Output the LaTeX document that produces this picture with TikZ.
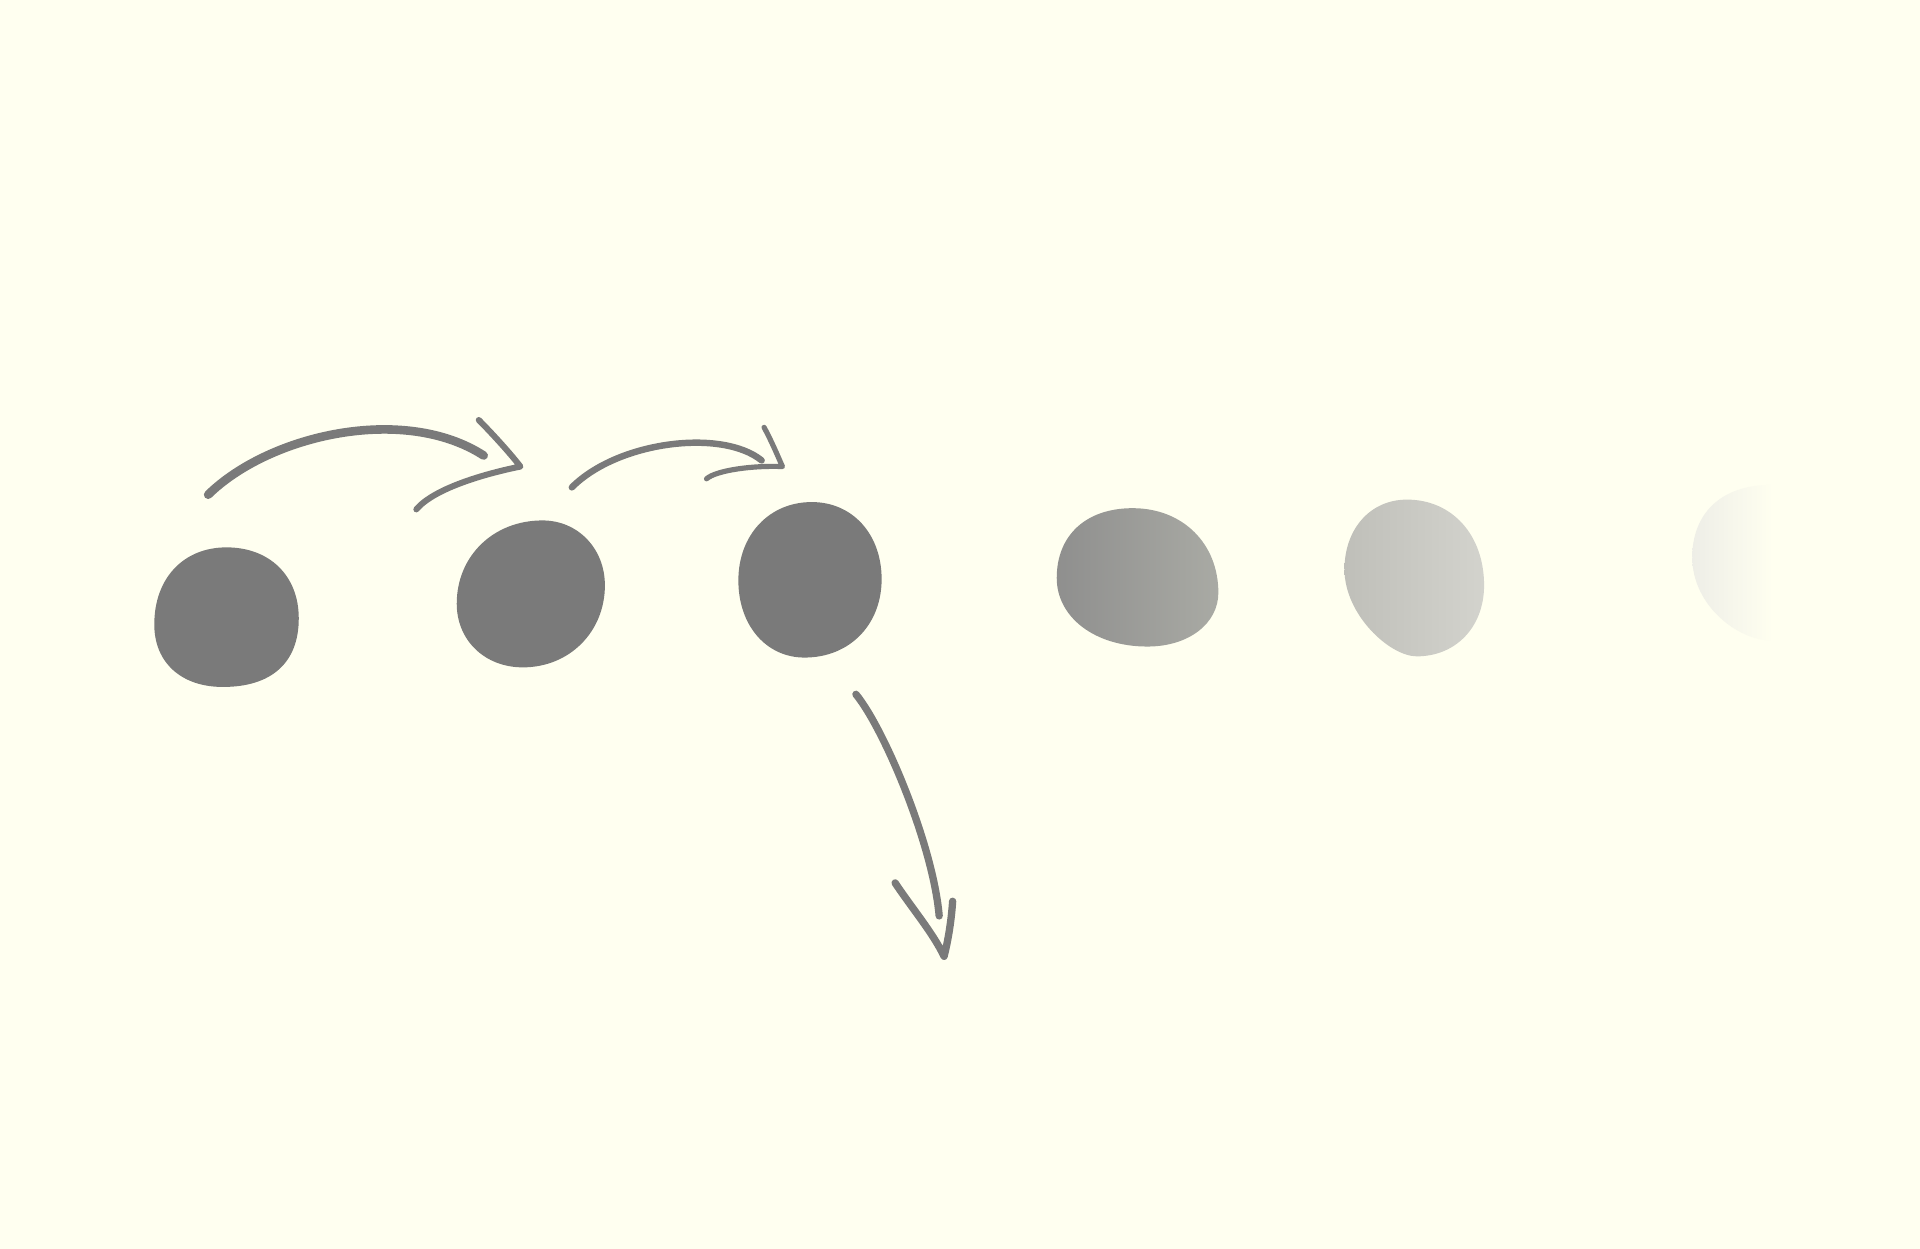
\documentclass[tikz,border=0pt]{standalone}
\usetikzlibrary{positioning}
\definecolor{paper}{HTML}{FFFFF0}
\definecolor{ink}{HTML}{7A7A7A}
\definecolor{fadeA}{HTML}{8F8F8E}
\definecolor{fadeB}{HTML}{A9AAA4}
\definecolor{fadeC}{HTML}{BFBFB9}
\definecolor{fadeD}{HTML}{D3D3CD}
\definecolor{fadeE}{HTML}{EEEEE7}
\tikzset{
  blob/.style={fill=ink},
  stroke/.style={draw=ink, line cap=round, line join=round, line width=#1},
  stroke/.default=1.4pt
}
\begin{document}
\begin{tikzpicture}[x=0.01cm,y=-0.01cm]
\fill[paper] (0,0) rectangle (1568,1020);
\useasboundingbox (0,0) rectangle (1568,1020);
% blobs
\fill[blob] (185,447) .. controls (220,447) and (244,470) .. (244,505)
  .. controls (244,541) and (222,561) .. (182,561)
  .. controls (148,561) and (126,541) .. (126,510)
  .. controls (126,472) and (150,447) .. (185,447) -- cycle;
\fill[blob] (443,425) .. controls (472,425) and (494,448) .. (494,478)
  .. controls (494,516) and (465,545) .. (427,545)
  .. controls (396,545) and (373,523) .. (373,493)
  .. controls (373,454) and (403,425) .. (443,425) -- cycle;
\fill[blob] (663,410) .. controls (696,410) and (720,436) .. (720,473)
  .. controls (720,510) and (694,537) .. (657,537)
  .. controls (626,537) and (603,511) .. (603,474)
  .. controls (603,437) and (628,410) .. (663,410) -- cycle;
\shade[left color=fadeA, right color=fadeB] (925,415) .. controls (966,415) and (995,444) .. (995,484)
  .. controls (995,509) and (971,528) .. (937,528)
  .. controls (894,528) and (863,504) .. (863,472)
  .. controls (863,437) and (887,415) .. (925,415) -- cycle;
\shade[left color=fadeC, right color=fadeD] (1149,408) .. controls (1186,408) and (1212,437) .. (1212,478)
  .. controls (1212,512) and (1189,536) .. (1157,536)
  .. controls (1135,536) and (1098,502) .. (1098,465)
  .. controls (1098,432) and (1119,408) .. (1149,408) -- cycle;
\shade[left color=fadeE, right color=paper!97!fadeE] (1446,396) .. controls (1405,396) and (1382,420) .. (1382,455)
  .. controls (1382,495) and (1420,523) .. (1446,523) -- cycle;
% arrows
\coordinate (a1s) at (170,404);
\coordinate (a1e) at (395,372);
\coordinate (a1tip) at (425,381);
\draw[stroke=2pt] (a1s) .. controls (220,355) and (330,330) .. (a1e);
\draw[stroke=1.4pt] (391,343) .. controls (398,350) and (415,368) .. (a1tip)
  .. controls (400,386) and (355,398) .. (340,416);
\coordinate (a2s) at (467,398);
\coordinate (a2e) at (622,376);
\coordinate (a2tip) at (639,381);
\draw[stroke=1.5pt] (a2s) .. controls (505,360) and (590,350) .. (a2e);
\draw[stroke=1.2pt] (624,349) .. controls (630,360) and (635,372) .. (a2tip)
  .. controls (615,380) and (585,384) .. (577,391);
\coordinate (a3s) at (699,567);
\coordinate (a3e) at (767,748);
\coordinate (a3tip) at (771,781);
\draw[stroke=1.7pt] (a3s) .. controls (722,595) and (762,690) .. (a3e);
\draw[stroke=1.7pt] (731,721) .. controls (745,742) and (762,762) .. (a3tip)
  .. controls (775,765) and (777,750) .. (778,736);
\end{tikzpicture}
\end{document}
